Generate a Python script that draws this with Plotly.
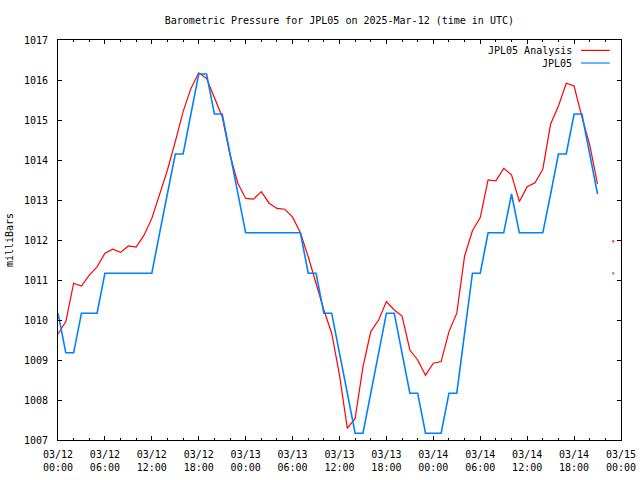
import pandas as pd
import plotly.graph_objects as go

# ---- data (hourly, UTC) ----
start_time = "2025-03-12 00:00"
n_hours = 72
times = pd.date_range(start_time, periods=n_hours, freq="h")

analysis_mb = [
    1009.65, 1009.96, 1010.92, 1010.85, 1011.12, 1011.33, 1011.67, 1011.77,
    1011.69, 1011.85, 1011.82, 1012.12, 1012.54, 1013.17, 1013.75, 1014.46,
    1015.21, 1015.79, 1016.18, 1016.04, 1015.54, 1015.08, 1014.13, 1013.42,
    1013.04, 1013.02, 1013.21, 1012.92, 1012.79, 1012.77, 1012.57, 1012.18,
    1011.58, 1010.92, 1010.25, 1009.67, 1008.62, 1007.29, 1007.54, 1008.83,
    1009.71, 1010.00, 1010.46, 1010.25, 1010.10, 1009.25, 1009.00, 1008.62,
    1008.92, 1008.96, 1009.71, 1010.17, 1011.60, 1012.23, 1012.56, 1013.50,
    1013.48, 1013.79, 1013.63, 1012.96, 1013.33, 1013.43, 1013.77, 1014.90,
    1015.35, 1015.92, 1015.85, 1015.08, 1014.38, 1013.40, None, 1011.97,
]

station_mb = [
    1010.17, 1009.18, 1009.18, 1010.17, 1010.17, 1010.17, 1011.17, 1011.17,
    1011.17, 1011.17, 1011.17, 1011.17, 1011.17, 1012.18, 1013.15, 1014.15,
    1014.15, 1015.15, 1016.15, 1016.15, 1015.15, 1015.15, 1014.15, 1013.15,
    1012.18, 1012.18, 1012.18, 1012.18, 1012.18, 1012.18, 1012.18, 1012.18,
    1011.17, 1011.17, 1010.17, 1010.17, 1009.17, 1008.17, 1007.17, 1007.17,
    1008.17, 1009.17, 1010.17, 1010.17, 1009.17, 1008.17, 1008.17, 1007.17,
    1007.17, 1007.17, 1008.17, 1008.17, 1009.67, 1011.17, 1011.17, 1012.18,
    1012.18, 1012.18, 1013.15, 1012.18, 1012.18, 1012.18, 1012.18, 1013.15,
    1014.15, 1014.15, 1015.15, 1015.15, 1014.15, 1013.15, None, 1011.17,
]

series_names = ["JPL05 Analysis", "JPL05"]
series_colors = ["#ff0000", "#0080ff"]

title_text = "Barometric Pressure for JPL05 on 2025-Mar-12 (time in UTC)"
y_title = "milliBars"
x_range = ["2025-03-12 00:00", "2025-03-15 00:00"]
y_range = [1007, 1017]

FONT = "DejaVu Sans Mono"


def isolated_sizes(vals, size):
    out = []
    for i, v in enumerate(vals):
        prev_none = i == 0 or vals[i - 1] is None
        next_none = i == len(vals) - 1 or vals[i + 1] is None
        out.append(size if (v is not None and prev_none and next_none) else 0)
    return out


fig = go.Figure()
for vals, name, color, width in zip(
    [analysis_mb, station_mb], series_names, series_colors, [1.2, 1.6]
):
    fig.add_trace(
        go.Scatter(
            x=times,
            y=vals,
            name=name,
            mode="lines+markers",
            line=dict(color=color, width=width),
            marker=dict(color=color, size=isolated_sizes(vals, 2.5), line=dict(width=0)),
            connectgaps=False,
            showlegend=False,
            hoverinfo="x+y+name",
        )
    )

# gnuplot-style legend (text right, sample line at far right)
leg_y = [0.974, 0.9425]
for name, color, yy in zip(series_names, series_colors, leg_y):
    fig.add_annotation(
        xref="paper", yref="paper", x=0.9165, y=yy, text=name,
        showarrow=False, xanchor="right", yanchor="middle",
        font=dict(family=FONT, size=10, color="black"),
    )
    fig.add_shape(
        type="line", xref="paper", yref="paper",
        x0=0.929, x1=0.980, y0=yy, y1=yy,
        line=dict(color=color, width=1.2),
    )

axis_common = dict(
    showline=True, linecolor="black", linewidth=1, mirror="allticks",
    ticks="inside", tickcolor="black", ticklen=4, tickwidth=1,
    showgrid=False, zeroline=False, automargin=False,
    tickfont=dict(family=FONT, size=10, color="black"),
)

fig.update_layout(
    width=640, height=480,
    margin=dict(l=58, r=19, t=40, b=40, autoexpand=False),
    paper_bgcolor="white", plot_bgcolor="white",
    title=dict(
        text=title_text, x=0.5303, xanchor="center",
        yref="container", y=0.958, yanchor="middle", automargin=False,
        font=dict(family=FONT, size=10, color="black"),
    ),
    xaxis=dict(
        type="date", range=x_range, dtick=6 * 3600 * 1000,
        tick0="2025-03-12 00:00", tickformat="%m/%d<br>%H:%M",
        minor=dict(dtick=2 * 3600 * 1000, ticks="inside", ticklen=2,
                   tickcolor="black", showgrid=False),
        ticklabelstandoff=5,
        **axis_common,
    ),
    yaxis=dict(
        range=y_range, dtick=1, tickformat="d",
        ticklabelstandoff=7,
        title=dict(text=y_title, standoff=8,
                   font=dict(family=FONT, size=10, color="black")),
        **axis_common,
    ),
    showlegend=False,
)

fig.write_html(
    "out.html",
    config={"displayModeBar": False},
    post_script="document.body.style.margin='0';document.body.style.overflow='hidden';",
)
